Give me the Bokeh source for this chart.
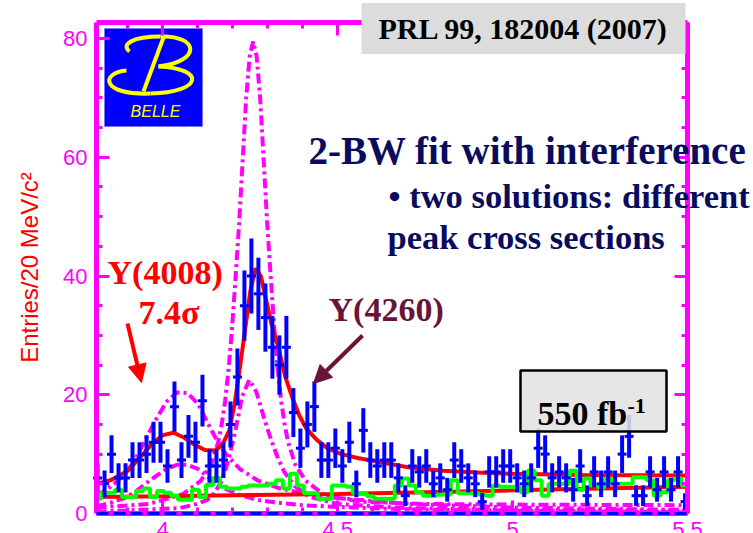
import math
import numpy as np
from bokeh.plotting import figure
from bokeh.models import (Range1d, LinearAxis, SingleIntervalTicker, Label, Arrow,
                          NormalHead, ColumnDataSource, CustomJSTickFormatter)
from bokeh.embed import file_html
from bokeh.resources import INLINE
from bokeh.core.properties import value

# ---- data: pi+pi- J/psi invariant mass, 20 MeV bins ----
mass = [round(3.813 + 0.02 * i, 3) for i in range(85)]
counts = [6, 5, 10, 6, 6, 9, 9, 10, 12, 12,
          8, 18, 9, 13, 12, 19, 8, 8, 9, 15,
          23, 35, 40, 37, 33, 28, 25, 28, 17, 11,
          15, 18, 9, 9, 11, 8, 12, 5, 14, 9,
          8, 9, 9, 6, 3, 8, 7, 8, 5, 6,
          4, 9, 8, 6, 5, 2, 7, 7, 8, 8,
          6, 5, 6, 11, 10, 6, 7, 6, 4, 8,
          3, 7, 5, 7, 5, 10, 13, 3, 3, 7,
          4, 7, 4, 7, 2]
# J/psi sideband background histogram
sideband = [2.5, 3.5, 3.5, 4.0, 2.8, 2.8, 3.8, 4.2, 2.8, 3.8,
            3.5, 3.0, 2.3, 2.3, 4.0, 2.8, 4.8, 6.0, 4.5, 4.2,
            4.2, 4.5, 4.7, 4.7, 4.7, 5.0, 5.6, 4.2, 6.7, 4.7,
            3.4, 3.4, 2.5, 2.5, 4.7, 4.7, 4.5, 3.4, 3.4, 2.9,
            2.5, 2.5, 2.5, 4.7, 5.9, 4.7, 3.6, 3.0, 3.0, 3.2,
            3.2, 5.6, 3.4, 3.4, 3.4, 3.2, 3.0, 4.7, 4.5, 4.5,
            4.4, 3.6, 7.2, 5.6, 3.0, 5.0, 5.0, 5.0, 7.2, 4.0,
            5.9, 4.7, 4.4, 5.9, 5.0, 5.0, 5.0, 6.1, 6.1, 5.6,
            3.0, 3.6, 5.6, 5.9, 4.7]

# total fit (2 BW with interference + background)
fit_x = [3.81, 3.85, 3.90, 3.94, 3.97, 4.00, 4.03, 4.06, 4.09, 4.12, 4.15, 4.17,
         4.19, 4.205, 4.22, 4.235, 4.25, 4.265, 4.28, 4.295, 4.31, 4.33, 4.35,
         4.37, 4.39, 4.41, 4.44, 4.47, 4.51, 4.56, 4.60, 4.70, 4.80, 4.90, 5.00,
         5.20, 5.50]
fit_y = [5.0, 5.6, 7.2, 9.8, 11.8, 13.2, 13.6, 12.8, 11.6, 10.7, 10.6, 11.6,
         14.0, 18.5, 24.5, 31.0, 37.5, 41.3, 40.0, 36.0, 32.0, 28.0, 23.0,
         19.5, 16.5, 14.3, 12.4, 11.0, 10.0, 9.3, 8.9, 7.8, 7.2, 6.9, 6.7,
         6.5, 6.4]
# background term of the fit
bkg_x = [3.81, 4.00, 4.25, 4.50, 4.75, 5.00, 5.25, 5.50]
bkg_y = [2.8, 2.9, 3.1, 3.3, 3.6, 3.9, 4.2, 4.5]

# individual resonance components of the two solutions
y4260_hi_x = [3.81, 3.96, 4.058, 4.108, 4.138, 4.158, 4.168, 4.178, 4.188, 4.198,
              4.208, 4.218, 4.228, 4.238, 4.248, 4.258, 4.268, 4.278, 4.288,
              4.298, 4.308, 4.318, 4.328, 4.338, 4.348, 4.358, 4.378, 4.408,
              4.458, 4.558, 4.75, 5.0, 5.5]
y4260_hi_y = [1.0, 1.6, 3.3, 5.5, 8.3, 12.0, 15.0, 19.0, 24.5, 31.5,
              40.0, 49.0, 59.5, 70.0, 77.0, 79.5, 77.0, 70.0, 59.5,
              49.0, 40.0, 31.5, 24.5, 19.0, 15.0, 12.0, 8.3, 5.5,
              3.3, 2.0, 1.6, 1.5, 1.4]
y4260_lo_x = [3.81, 4.047, 4.097, 4.127, 4.147, 4.167, 4.187, 4.207, 4.227, 4.247,
              4.267, 4.287, 4.307, 4.327, 4.347, 4.377, 4.42, 4.50, 4.70, 5.0, 5.5]
y4260_lo_y = [0.3, 0.9, 1.6, 2.3, 3.4, 5.4, 8.9, 13.9, 19.8, 22.5,
              20.5, 16.5, 12.8, 9.6, 7.0, 4.6, 2.8, 1.6, 0.9, 0.6, 0.5]
y4008_x = [3.81, 3.85, 3.89, 3.92, 3.95, 3.98, 4.01, 4.04, 4.07, 4.10, 4.13,
           4.15, 4.18, 4.22, 4.27, 4.33, 4.40, 4.50, 4.70, 5.00, 5.50]
y4008_hi_y = [3.0, 4.5, 6.5, 9.0, 12.5, 15.8, 18.8, 20.4, 20.3, 18.5, 15.0,
              12.8, 10.0, 7.5, 5.6, 4.3, 3.4, 2.6, 1.6, 1.0, 0.6]
y4008_lo_y = [1.2, 1.8, 2.6, 3.6, 5.0, 6.3, 7.5, 8.2, 8.2, 7.5, 6.1,
              5.2, 4.1, 3.1, 2.3, 1.8, 1.4, 1.1, 0.7, 0.45, 0.25]

x_ticks = [4.0, 4.5, 5.0, 5.5]
x_tick_labels = ["4", "4.5", "5", "5.5"]

MAG = "#ff00ff"
BLUE = "#0000ff"
X0, X1 = 3.81, 5.5          # axis extent in GeV/c^2
Y0, Y1 = 0.0, 82.7          # axis extent in entries
FL, FR, FT, FB = 96, 687, 22, 513   # where the axes sit on the 753x533 canvas
W, H = 753, 533


def dx(px):
    return X0 + (px - FL) * (X1 - X0) / (FR - FL)


def dy(py):
    return Y0 + (FB - py) * (Y1 - Y0) / (FB - FT)


# the plotting area spans the whole canvas; the axes are pinned at the box edges
p = figure(width=W, height=H, output_backend="svg", toolbar_location=None,
           x_range=Range1d(dx(0), dx(W)), y_range=Range1d(dy(H), dy(0)),
           min_border=0, min_border_left=0, min_border_right=0,
           min_border_top=0, min_border_bottom=0,
           x_axis_location=None, y_axis_location=None)
p.outline_line_color = None
p.xgrid.visible = False
p.ygrid.visible = False
p.background_fill_color = "white"
p.border_fill_color = "white"

blank = CustomJSTickFormatter(code="return ''")


def style_axis(ax, labels=False):
    ax.axis_line_color = MAG
    ax.axis_line_width = 5
    ax.major_tick_line_color = MAG
    ax.minor_tick_line_color = MAG
    ax.major_tick_line_width = 3
    ax.minor_tick_line_width = 3
    ax.major_tick_in = 13
    ax.major_tick_out = 0
    ax.minor_tick_in = 6
    ax.minor_tick_out = 0
    if not labels:
        ax.formatter = blank
        ax.major_label_standoff = 0
        ax.major_label_text_font_size = "1px"


yax = LinearAxis(ticker=SingleIntervalTicker(interval=20, num_minor_ticks=4),
                 fixed_location=X0, bounds=(Y0, Y1))
style_axis(yax, labels=True)
yax.major_label_text_font = "Liberation Sans"
yax.major_label_text_font_size = "22px"
yax.major_label_text_color = MAG
yax.major_label_standoff = 9
p.add_layout(yax, "left")

yax_r = LinearAxis(ticker=SingleIntervalTicker(interval=20, num_minor_ticks=4),
                   fixed_location=X1, bounds=(Y0, Y1))
style_axis(yax_r)
p.add_layout(yax_r, "right")

xax_t = LinearAxis(ticker=SingleIntervalTicker(interval=0.5, num_minor_ticks=5),
                   fixed_location=Y1, bounds=(X0, X1))
style_axis(xax_t)
p.add_layout(xax_t, "above")
xax_b = LinearAxis(ticker=SingleIntervalTicker(interval=0.5, num_minor_ticks=5),
                   fixed_location=Y0, bounds=(X0, X1))
style_axis(xax_b)
p.add_layout(xax_b, "below")

# mass tick labels sit at the bottom edge of the canvas
for xt, lab in zip(x_ticks, x_tick_labels):
    p.add_layout(Label(x=xt, y=dy(521), text=lab, text_align="center",
                       text_baseline="top", text_font="Liberation Sans",
                       text_font_size="22px", text_color=MAG))

p.add_layout(Label(x=dx(29), y=dy(267), text="Entries/20 MeV/c\u00b2", angle=math.pi / 2,
                   text_align="center", text_baseline="middle",
                   text_font="Liberation Sans", text_font_size="24px",
                   text_color="#ff0000"))

# ---- resonance components (dash-dot magenta) ----
dd = "10 4 3 4"
for cx, cy in ((y4008_x, y4008_lo_y), (y4008_x, y4008_hi_y),
               (y4260_lo_x, y4260_lo_y), (y4260_hi_x, y4260_hi_y)):
    p.line(cx, cy, line_color=MAG, line_width=4, line_dash=dd)

# ---- fit curves ----
p.line(bkg_x, bkg_y, line_color="#ff0000", line_width=4)
p.line(fit_x, fit_y, line_color="#ff0000", line_width=4)

# ---- sideband histogram ----
p.step(mass, sideband, mode="center", line_color="#00ff00", line_width=4)

# ---- data points ----
err = np.sqrt(np.array(counts, dtype=float))
src = ColumnDataSource(dict(x=mass, y=counts, lo=np.array(counts) - err,
                            hi=np.array(counts) + err))
p.segment(x0="x", y0="lo", x1="x", y1="hi", source=src, line_color=BLUE, line_width=4)
p.scatter(x="x", y="y", source=src, marker="dash", size=9, line_color=BLUE,
          line_width=3)

# zero line drawn over the bottom axis
p.line([X0, X1], [0.0, 0.0], line_color=BLUE, line_width=3, line_dash="12 5",
       level="annotation")

# ---- luminosity box ----
p.quad(left=[dx(520)], right=[dx(666)], top=[dy(370)], bottom=[dy(431)],
       fill_color="#e2e2e2", fill_alpha=0.88, line_color="black", line_width=2.5)
p.add_layout(Label(x=dx(537), y=dy(413), text="550 fb", text_font="Liberation Serif",
                   text_font_style="bold", text_font_size="34px", text_color="black",
                   text_baseline="alphabetic"))
p.add_layout(Label(x=dx(627), y=dy(405), text="-1", text_font="Liberation Serif",
                   text_font_style="bold", text_font_size="22px", text_color="black",
                   text_baseline="alphabetic"))

# ---- Belle logo ----
p.quad(left=[dx(104)], right=[dx(202)], top=[dy(28)], bottom=[dy(126)],
       fill_color="#0000ff", line_color="#7777ff", line_width=1)
YEL = "#ffff00"
curves = [  # (x0, y0, cx0, cy0, cx1, cy1, x1, y1) in canvas pixels
    (126, 70, 100, 72, 100, 95, 150, 93),
    (150, 93, 202, 92, 206, 68, 158, 66),
    (158, 66, 201, 61, 199, 35, 160, 36),
    (160, 36, 132, 36, 120, 44, 129, 51),
]
for c in curves:
    p.bezier(x0=[dx(c[0])], y0=[dy(c[1])], cx0=[dx(c[2])], cy0=[dy(c[3])],
             cx1=[dx(c[4])], cy1=[dy(c[5])], x1=[dx(c[6])], y1=[dy(c[7])],
             line_color=YEL, line_width=4)
p.segment(x0=[dx(143)], y0=[dy(91)], x1=[dx(163)], y1=[dy(37)], line_color=YEL,
          line_width=4)
p.text(x=[dx(155)], y=[dy(111)], text=["BELLE"], text_font=value("Liberation Sans"),
       text_font_style="italic", text_font_size="16px", text_color=YEL,
       text_align="center", text_baseline="middle")

# ---- annotations ----
p.add_layout(Label(x=dx(523), y=dy(28), text="PRL 99, 182004 (2007)",
                   text_font="Liberation Serif", text_font_style="bold",
                   text_font_size="30px", text_color="black", text_align="center",
                   text_baseline="middle", background_fill_color="#dcdcdc",
                   padding=(17, 9)))

NAVY = "#0b0b5e"
p.add_layout(Label(x=dx(308), y=dy(171), text="2-BW fit with interference",
                   text_font="Liberation Serif", text_font_style="bold",
                   text_font_size="39px", text_color=NAVY))
p.add_layout(Label(x=dx(388), y=dy(214), text="\u2022 two solutions: different",
                   text_font="Liberation Serif", text_font_style="bold",
                   text_font_size="34.5px", text_color=NAVY))
p.add_layout(Label(x=dx(387), y=dy(255), text="peak cross sections",
                   text_font="Liberation Serif", text_font_style="bold",
                   text_font_size="34.5px", text_color=NAVY))

p.add_layout(Label(x=dx(107), y=dy(290), text="Y(4008)", text_font="Liberation Serif",
                   text_font_style="bold", text_font_size="34px", text_color="#ff0000"))
p.add_layout(Label(x=dx(138), y=dy(330), text="7.4\u03c3", text_font="Liberation Serif",
                   text_font_style="bold", text_font_size="34px", text_color="#ff0000"))
p.add_layout(Arrow(x_start=dx(127), y_start=dy(323), x_end=dx(141), y_end=dy(382),
                   line_color="#ff0000", line_width=4,
                   end=NormalHead(size=18, fill_color="#ff0000", line_color="#ff0000")))

MAROON = "#6a1438"
p.add_layout(Label(x=dx(328), y=dy(327), text="Y(4260)", text_font="Liberation Serif",
                   text_font_style="bold", text_font_size="34px", text_color=MAROON))
p.add_layout(Arrow(x_start=dx(362), y_start=dy(335), x_end=dx(313), y_end=dy(383),
                   line_color=MAROON, line_width=4,
                   end=NormalHead(size=18, fill_color=MAROON, line_color=MAROON)))

open("out.html", "w").write(file_html(p, INLINE))
